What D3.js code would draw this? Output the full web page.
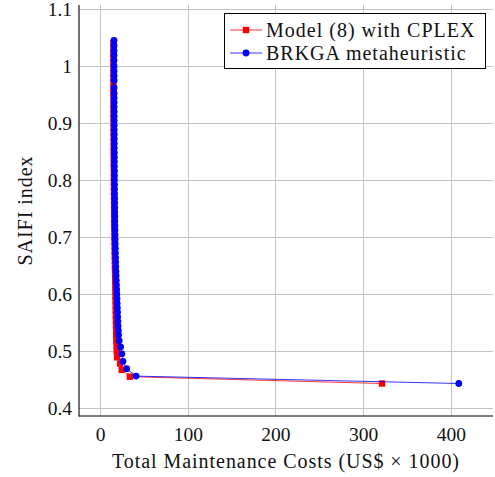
<!DOCTYPE html>
<html>
<head>
<meta charset="utf-8">
<script src="https://cdn.jsdelivr.net/npm/d3@7"></script>
<style>
  html, body { margin: 0; padding: 0; background: #fff; }
</style>
</head>
<body>
<svg id="chart" width="495" height="477"></svg>
<script>
// Pareto front: total maintenance cost (US$ x 1000) vs. SAIFI index
const cplexCost = [15.2, 15.2, 15.2, 15.2, 15.2, 15.3, 15.3, 15.3, 15.3, 15.3, 15.3, 15.4, 15.4, 15.4, 15.4, 15.4, 15.5, 15.5, 15.5, 15.5,
  15.6, 15.6, 15.6, 15.7, 15.7, 15.7, 15.8, 15.8, 15.8, 15.9, 15.9, 16.0, 16.0, 16.1, 16.1, 16.2, 16.2, 16.3, 16.4, 16.5,
  16.5, 16.6, 16.7, 16.8, 16.9, 17.0, 17.1, 17.2, 17.3, 17.4, 17.5, 17.6, 17.7, 17.8, 17.9, 18.0, 18.1, 18.2, 18.3, 18.4,
  18.6, 18.8, 19.0, 19.4, 22.8, 24.7, 34.0, 321.5];
const cplexSaifi = [1.040, 1.031, 1.022, 1.014, 1.005, 0.996, 0.987, 0.979, 0.970, 0.961, 0.953, 0.944, 0.935, 0.927, 0.918, 0.909, 0.901, 0.892, 0.883, 0.875,
  0.866, 0.857, 0.849, 0.840, 0.831, 0.823, 0.814, 0.805, 0.797, 0.788, 0.779, 0.771, 0.762, 0.753, 0.745, 0.736, 0.727, 0.719, 0.710, 0.701,
  0.693, 0.684, 0.675, 0.667, 0.658, 0.649, 0.641, 0.632, 0.623, 0.615, 0.606, 0.597, 0.589, 0.580, 0.571, 0.563, 0.554, 0.545, 0.537, 0.528,
  0.519, 0.510, 0.500, 0.489, 0.478, 0.467, 0.455, 0.443];

const brkgaCost = [15.9, 15.9, 15.9, 15.9, 15.9, 15.9, 16.0, 16.0, 16.0, 15.9, 16.0, 16.0, 16.0, 16.0, 16.1, 16.1, 16.1, 16.1, 16.1, 16.2,
  16.2, 16.2, 16.2, 16.3, 16.3, 16.3, 16.3, 16.4, 16.4, 16.4, 16.5, 16.5, 16.5, 16.6, 16.6, 16.7, 16.7, 16.8, 16.8, 16.9,
  17.0, 17.1, 17.2, 17.3, 17.4, 17.5, 17.7, 17.8, 17.9, 18.1, 18.3, 18.5, 18.7, 18.9, 19.1, 19.3, 19.5, 19.7, 19.9, 20.1,
  20.3, 20.5, 20.8, 21.2, 21.8, 23.4, 24.9, 26.1, 30.3, 41.0, 409.0];
const brkgaSaifi = [1.045, 1.036, 1.027, 1.019, 1.010, 1.000, 0.991, 0.983, 0.975, 0.962, 0.952, 0.944, 0.936, 0.928, 0.920, 0.912, 0.904, 0.896, 0.888, 0.880,
  0.872, 0.864, 0.856, 0.848, 0.840, 0.832, 0.824, 0.816, 0.808, 0.800, 0.792, 0.784, 0.776, 0.768, 0.760, 0.752, 0.744, 0.736, 0.728, 0.720,
  0.712, 0.704, 0.696, 0.688, 0.680, 0.672, 0.664, 0.656, 0.648, 0.640, 0.632, 0.624, 0.616, 0.608, 0.600, 0.592, 0.584, 0.576, 0.568, 0.560,
  0.552, 0.544, 0.536, 0.528, 0.518, 0.507, 0.495, 0.482, 0.469, 0.456, 0.443];

const xTicks = [0, 100, 200, 300, 400];
const yTicks = [0.4, 0.5, 0.6, 0.7, 0.8, 0.9, 1.0, 1.1];
const seriesNames = ["Model (8) with CPLEX", "BRKGA metaheuristic"];
const xTitle = "Total Maintenance Costs (US$ \u00d7 1000)";
const yTitle = "SAIFI index";

const FONT = "'Liberation Serif', 'DejaVu Serif', serif";
const svg = d3.select("#chart").attr("font-family", FONT);
const plotLeft = 79, plotRight = 493, plotTop = 5, plotBottom = 416;

const x = d3.scaleLinear().domain([-24, 448]).range([plotLeft, plotRight]);
const y = d3.scaleLinear().domain([0.386, 1.107]).range([plotBottom, plotTop]);

// grid
const grid = svg.append("g").attr("stroke", "#c4c4c4").attr("stroke-width", 1);
grid.selectAll("line.gx").data(xTicks).join("line")
  .attr("x1", d => Math.round(x(d)) + 0.5).attr("x2", d => Math.round(x(d)) + 0.5)
  .attr("y1", plotTop).attr("y2", plotBottom);
grid.selectAll("line.gy").data(yTicks).join("line")
  .attr("y1", d => Math.round(y(d)) + 0.5).attr("y2", d => Math.round(y(d)) + 0.5)
  .attr("x1", plotLeft).attr("x2", plotRight);

// axes
const xAxis = d3.axisBottom(x).tickValues(xTicks).tickSize(0).tickPadding(11).tickFormat(d3.format("d"));
const yAxis = d3.axisLeft(y).tickValues(yTicks).tickSize(0).tickPadding(7).tickFormat(d => d === 1 ? "1" : d3.format(".1f")(d));

const gx = svg.append("g").attr("transform", `translate(0,${plotBottom})`).call(xAxis);
const gy = svg.append("g").attr("transform", `translate(${plotLeft},0)`).call(yAxis);
[gx, gy].forEach(g => {
  g.attr("font-family", FONT).attr("font-size", 19.5);
  g.select(".domain").remove();
  g.selectAll("text").attr("fill", "#111");
});
gx.selectAll("text").attr("dy", "0.71em");
gy.selectAll("text").attr("dy", "0.35em");

svg.append("line").attr("x1", plotLeft).attr("x2", plotLeft).attr("y1", plotTop).attr("y2", plotBottom + 0.5)
  .attr("stroke", "#000").attr("stroke-width", 1.1);
svg.append("line").attr("x1", plotLeft).attr("x2", plotRight).attr("y1", plotBottom).attr("y2", plotBottom)
  .attr("stroke", "#000").attr("stroke-width", 1.1);

svg.append("text").attr("x", (plotLeft + plotRight) / 2).attr("y", 468).attr("fill", "#111")
  .attr("text-anchor", "middle").attr("font-size", 20).attr("letter-spacing", 0.95).text(xTitle);
svg.append("text").attr("transform", `translate(32,${(plotTop + plotBottom) / 2}) rotate(-90)`).attr("fill", "#111")
  .attr("text-anchor", "middle").attr("font-size", 20).attr("letter-spacing", 0.95).text(yTitle);

// series
const cplex = cplexCost.map((c, i) => [c, cplexSaifi[i]]);
const brkga = brkgaCost.map((c, i) => [c, brkgaSaifi[i]]);
const line = d3.line().x(d => x(d[0])).y(d => y(d[1]));

const sq = 6.4, r = 3.4;
svg.append("path").datum(cplex).attr("d", line).attr("fill", "none").attr("stroke", "#ff0000").attr("stroke-width", 0.8);
svg.append("g").selectAll("rect").data(cplex).join("rect")
  .attr("x", d => x(d[0]) - sq / 2).attr("y", d => y(d[1]) - sq / 2)
  .attr("width", sq).attr("height", sq).attr("fill", "#ff0000");

svg.append("path").datum(brkga).attr("d", line).attr("fill", "none").attr("stroke", "#0000ff").attr("stroke-width", 0.8);
svg.append("g").selectAll("circle").data(brkga).join("circle")
  .attr("cx", d => x(d[0])).attr("cy", d => y(d[1])).attr("r", r).attr("fill", "#0000ff");

// legend
const lg = svg.append("g");
lg.append("rect").attr("x", 224.5).attr("y", 13.5).attr("width", 261).attr("height", 55)
  .attr("fill", "#fff").attr("stroke", "#000").attr("stroke-width", 1);
const rows = [{ name: seriesNames[0], color: "#ff0000", shape: "square", cy: 30 },
              { name: seriesNames[1], color: "#0000ff", shape: "circle", cy: 53 }];
rows.forEach(rw => {
  lg.append("line").attr("x1", 230).attr("x2", 262).attr("y1", rw.cy).attr("y2", rw.cy)
    .attr("stroke", rw.color).attr("stroke-width", 0.8);
  if (rw.shape === "square") {
    lg.append("rect").attr("x", 246 - sq / 2).attr("y", rw.cy - sq / 2).attr("width", sq).attr("height", sq).attr("fill", rw.color);
  } else {
    lg.append("circle").attr("cx", 246).attr("cy", rw.cy).attr("r", r).attr("fill", rw.color);
  }
  lg.append("text").attr("x", 266).attr("y", rw.cy).attr("dy", "0.35em").attr("fill", "#111")
    .attr("font-size", 20).attr("letter-spacing", 1).text(rw.name);
});
</script>
</body>
</html>
